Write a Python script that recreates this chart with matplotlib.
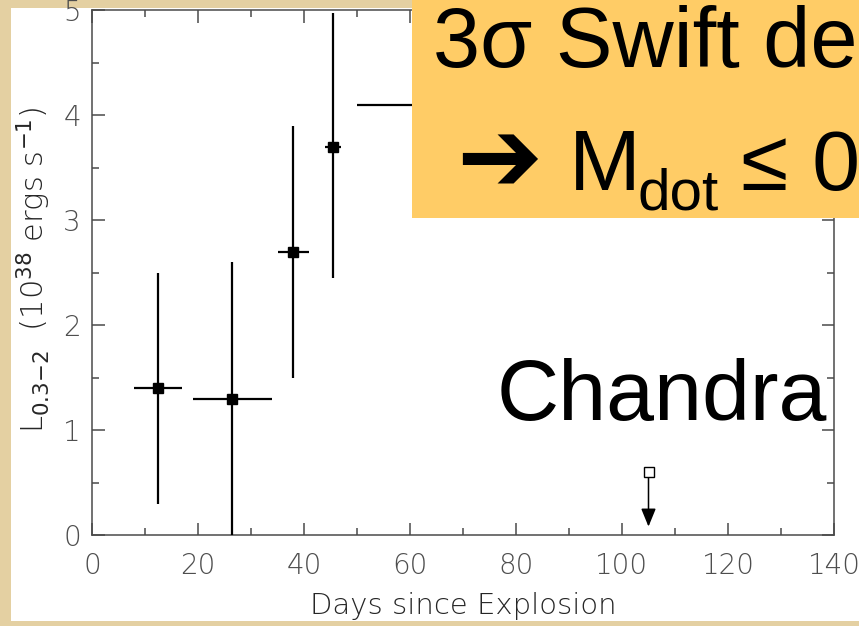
import matplotlib
matplotlib.use("Agg")
import matplotlib.pyplot as plt
from matplotlib.patches import Rectangle
from matplotlib.ticker import MultipleLocator

# Swift X-ray luminosities (10^38 erg/s) with asymmetric errors
days = [12.5, 26.5, 38.0, 45.5, 62.0]
days_lo = [8.0, 19.0, 35.0, 44.0, 50.0]
days_hi = [17.0, 34.0, 41.0, 47.0, 75.0]
lum = [1.4, 1.3, 2.7, 3.7, 4.1]
lum_lo = [0.3, 0.0, 1.5, 2.45, 3.3]
lum_hi = [2.5, 2.6, 3.9, 4.97, 4.9]

# Chandra upper limit
ul_day = 105.0
ul_lum = 0.6
ul_arrow_to = 0.08

x_ticks = [0, 20, 40, 60, 80, 100, 120, 140]
y_ticks = [0, 1, 2, 3, 4, 5]

W, H = 859, 626
fig = plt.figure(figsize=(W / 100, H / 100), dpi=100)
fig.patch.set_facecolor("#E4D0A2")

# white slide panel
fig.add_artist(Rectangle((11 / W, 1 - 621 / H), 1 - 11 / W, (621 - 8) / H,
                         transform=fig.transFigure, facecolor="white",
                         edgecolor="none", zorder=-1))

ax = fig.add_axes([92 / W, (H - 535) / H, (834 - 92) / W, (535 - 10) / H])
ax.set_facecolor("white")

xerr = [[d - lo for d, lo in zip(days, days_lo)],
        [hi - d for d, hi in zip(days, days_hi)]]
yerr = [[v - lo for v, lo in zip(lum, lum_lo)],
        [hi - v for v, hi in zip(lum, lum_hi)]]
ax.errorbar(days, lum, xerr=xerr, yerr=yerr, fmt="s", color="black",
            markersize=7, elinewidth=1.6, capsize=0, zorder=3)

ax.plot([ul_day], [ul_lum], marker="s", markersize=7, markerfacecolor="white",
        markeredgecolor="black", markeredgewidth=1.0, linestyle="none", zorder=4)
ax.annotate("", xy=(ul_day, ul_arrow_to), xytext=(ul_day, ul_lum),
            arrowprops=dict(arrowstyle="-|>,head_length=1.1,head_width=0.45",
                            color="black", lw=1.1, shrinkA=0, shrinkB=0),
            zorder=3)

ax.set_xlim(0, 140)
ax.set_ylim(0, 5)
ax.set_xticks(x_ticks)
ax.set_yticks(y_ticks)
ax.xaxis.set_minor_locator(MultipleLocator(10))
ax.yaxis.set_minor_locator(MultipleLocator(0.5))

axis_col = "#4a4a4a"
label_col = "#4e4e4e"
for s in ax.spines.values():
    s.set_color(axis_col)
    s.set_linewidth(1.1)
ax.tick_params(which="both", direction="in", top=True, right=True,
               color=axis_col, width=1.1, labelcolor=label_col)
ax.tick_params(which="major", length=9)
ax.tick_params(which="minor", length=5)
ax.tick_params(axis="x", labelsize=20, pad=12)
ax.tick_params(axis="y", labelsize=20, pad=8)
for lab in ax.get_xticklabels() + ax.get_yticklabels():
    lab.set_fontweight("light")

ax.set_xlabel("Days since Explosion", fontsize=21, color="#262626",
              labelpad=9, fontweight="light")
ax.set_ylabel(r"L$_{0.3\mathrm{-}2}$  (10$^{38}$ ergs s$^{-1}$)", fontsize=22,
              color="#262626", fontweight="light")
ax.yaxis.set_label_coords(-0.053, 0.505)

# orange callout
fig.add_artist(Rectangle((412 / W, 1 - 218 / H), 1 - 412 / W, 218 / H,
                         transform=fig.transFigure, facecolor="#FFCC66",
                         edgecolor="none", zorder=10))

def ftext(px, py, s, size, fam="Liberation Sans", **kw):
    fig.text(px / W, 1 - py / H, s, fontsize=size, family=fam,
             color="black", va="baseline", ha="left", zorder=11, **kw)

ftext(433, 67, "3σ Swift de", 61)
ftext(456, 192, "➔", 74, fam=["DejaVu Sans"], fontweight="bold")
ftext(569, 190, "M", 62)
ftext(638, 210, "dot", 42)
ftext(741, 190, "≤ 0", 62)
ftext(497, 420, "Chandra", 62)

fig.savefig("out.png", dpi=100, facecolor=fig.get_facecolor())
